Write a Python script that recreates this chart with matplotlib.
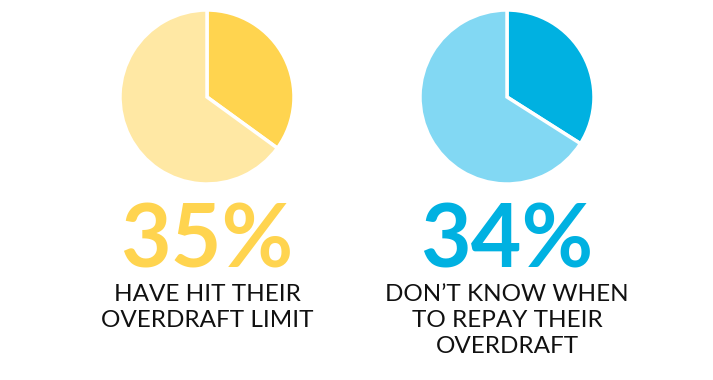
import matplotlib.pyplot as plt

values = [35, 34]
labels = ["HAVE HIT THEIR\nOVERDRAFT LIMIT", "DON\u2019T KNOW WHEN\nTO REPAY THEIR\nOVERDRAFT"]
dark_colors = ["#FFD44F", "#00B1E1"]
light_colors = ["#FFE8A4", "#82D8F3"]
centers_x = [207, 507]

W, H = 713, 380
fig = plt.figure(figsize=(W / 100, H / 100), dpi=100)

r = 87
cy = 97
for val, lab, dc, lc, cx in zip(values, labels, dark_colors, light_colors, centers_x):
    ax = fig.add_axes([(cx - r) / W, (H - cy - r) / H, 2 * r / W, 2 * r / H])
    ax.pie([val, 100 - val], colors=[dc, lc], startangle=90, counterclock=False,
           radius=1, wedgeprops=dict(edgecolor="white", linewidth=2.5))
    ax.set_xlim(-1, 1)
    ax.set_ylim(-1, 1)
    ax.set_aspect("equal")
    ax.axis("off")

    fig.text(cx / W, 1 - 242 / H, str(val) + "%", ha="center", va="center",
             fontsize=63, color=dc, family="Lato", fontweight="bold")
    fig.text(cx / W, 1 - 284 / H, lab, ha="center", va="top",
             fontsize=17.5, color="#111111", family="Lato", linespacing=1.3)

fig.savefig("out.png", dpi=100, facecolor="white")
